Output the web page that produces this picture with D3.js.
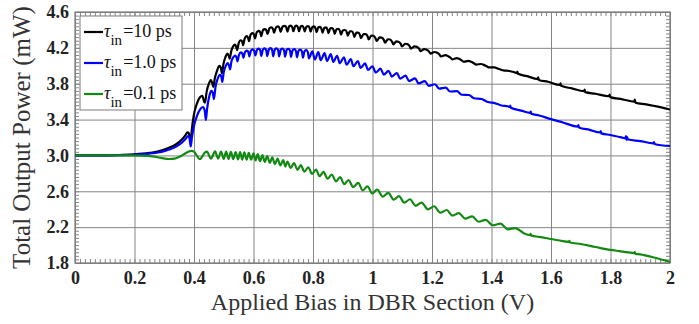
<!DOCTYPE html>
<html>
<head>
<meta charset="utf-8">
<script src="https://cdn.jsdelivr.net/npm/d3@7"></script>
<style>
  html, body { margin: 0; padding: 0; background: #fff; }
  svg { display: block; }
</style>
</head>
<body>
<svg id="chart" width="699" height="324"></svg>
<script>
// ---- data: applied bias (V) vs total output power (mW) ----
const xTickValues = [0, 0.2, 0.4, 0.6, 0.8, 1, 1.2, 1.4, 1.6, 1.8, 2];
const xTickLabels = ["0", "0.2", "0.4", "0.6", "0.8", "1", "1.2", "1.4", "1.6", "1.8", "2"];
const yTickValues = [1.8, 2.2, 2.6, 3.0, 3.4, 3.8, 4.2, 4.6];
const yTickLabels = ["1.8", "2.2", "2.6", "3.0", "3.4", "3.8", "4.2", "4.6"];
const legendValues = ["=10 ps", "=1.0 ps", "=0.1 ps"];

// tau_in = 10 ps
const powerTau10 = [
  [0.000,3.000],[0.100,3.001],[0.150,3.005],[0.200,3.012],[0.250,3.028],[0.280,3.045],[0.300,3.065],
  [0.320,3.090],[0.340,3.125],[0.360,3.180],[0.372,3.230],[0.378,3.258],[0.382,3.250],[0.386,3.200],[0.389,3.165],
  [0.393,3.300],[0.400,3.460],[0.410,3.580],[0.420,3.650],[0.428,3.665],[0.434,3.600],[0.437,3.590],
  [0.442,3.700],[0.450,3.800],[0.457,3.840],[0.462,3.800],[0.465,3.765],
  [0.470,3.860],[0.478,3.950],[0.485,4.000],[0.490,3.980],[0.494,3.915],
  [0.499,4.020],[0.506,4.100],[0.512,4.135],[0.517,4.110],[0.520,4.080],
  [0.525,4.160],[0.532,4.220],[0.538,4.235],[0.542,4.210],[0.545,4.175],
  [0.550,4.250],[0.557,4.285],[0.562,4.270],[0.565,4.230],
  [0.570,4.300],[0.577,4.330],[0.582,4.310],[0.585,4.275],
  [0.590,4.345],[0.597,4.365],[0.602,4.345],[0.605,4.305],
  [0.611,4.375],[0.618,4.390],[0.623,4.370],[0.626,4.330],
  [0.632,4.400],[0.639,4.410],[0.644,4.390],[0.647,4.355],
  [0.654,4.420],[0.661,4.430],[0.666,4.405],[0.669,4.370],
  [0.676,4.430],[0.683,4.440],[0.688,4.415],[0.691,4.378],
  [0.698,4.438],[0.706,4.445],[0.711,4.420],[0.714,4.382],
  [0.720,4.441],[0.726,4.448],[0.731,4.423],[0.734,4.385],
  [0.740,4.442],[0.745,4.448],[0.750,4.422],[0.753,4.385],
  [0.759,4.441],[0.764,4.446],[0.769,4.421],[0.772,4.383],
  [0.778,4.437],[0.784,4.442],[0.789,4.417],[0.792,4.380],
  [0.798,4.434],[0.804,4.439],[0.809,4.412],[0.812,4.375],
  [0.818,4.430],[0.824,4.434],[0.829,4.407],[0.832,4.370],
  [0.838,4.424],[0.844,4.428],[0.849,4.401],[0.852,4.364],
  [0.858,4.417],[0.864,4.420],[0.870,4.393],[0.873,4.357],
  [0.879,4.408],[0.885,4.411],[0.891,4.383],[0.894,4.348],
  [0.901,4.396],[0.908,4.399],[0.914,4.371],[0.917,4.337],
  [0.924,4.383],[0.930,4.385],[0.936,4.357],[0.939,4.323],
  [0.946,4.369],[0.952,4.370],[0.958,4.342],[0.961,4.309],
  [0.970,4.353],[0.977,4.353],[0.984,4.325],[0.987,4.293],
  [0.996,4.336],[1.003,4.335],[1.010,4.308],[1.014,4.277],
  [1.024,4.317],[1.031,4.315],[1.038,4.289],[1.042,4.259],
  [1.052,4.296],[1.059,4.293],[1.066,4.267],[1.070,4.238],
  [1.080,4.273],[1.087,4.269],[1.095,4.244],[1.099,4.216],
  [1.110,4.246],[1.117,4.242],[1.125,4.218],[1.129,4.192],
  [1.141,4.216],[1.149,4.211],[1.157,4.188],[1.161,4.164],
  [1.174,4.186],[1.182,4.180],[1.190,4.158],[1.195,4.136],
  [1.208,4.154],[1.216,4.148],[1.225,4.126],[1.230,4.104],
  [1.245,4.118],[1.253,4.110],[1.262,4.090],[1.268,4.072],
  [1.283,4.086],[1.291,4.078],[1.300,4.060],[1.307,4.044],
  [1.322,4.054],[1.331,4.045],[1.341,4.028],[1.348,4.014],
  [1.365,4.020],[1.374,4.010],[1.384,3.995],[1.392,3.982],
  [1.410,3.982],[1.420,3.970],[1.432,3.956],[1.440,3.948],
  [1.460,3.942],[1.475,3.930],[1.485,3.920],[1.487,3.936],[1.489,3.910],[1.520,3.884],
  [1.555,3.852],[1.557,3.870],[1.559,3.842],[1.590,3.822],[1.630,3.786],[1.632,3.804],[1.634,3.776],
  [1.670,3.748],[1.711,3.716],[1.713,3.734],[1.715,3.706],[1.750,3.688],[1.795,3.660],[1.797,3.678],
  [1.799,3.650],[1.840,3.626],[1.880,3.600],[1.882,3.624],[1.884,3.588],[1.920,3.570],[1.950,3.550],[2.000,3.512]
];

// tau_in = 1.0 ps
const powerTau1 = [
  [0.000,3.000],[0.100,3.000],[0.150,3.003],[0.200,3.008],[0.250,3.020],[0.280,3.033],[0.300,3.048],
  [0.320,3.068],[0.340,3.098],[0.360,3.145],[0.372,3.185],[0.380,3.215],[0.384,3.205],[0.387,3.140],[0.389,3.100],
  [0.393,3.200],[0.400,3.330],[0.410,3.440],[0.420,3.510],[0.430,3.540],[0.436,3.500],[0.440,3.395],
  [0.444,3.520],[0.450,3.640],[0.458,3.720],[0.463,3.700],[0.467,3.630],
  [0.472,3.760],[0.480,3.860],[0.487,3.900],[0.492,3.880],[0.495,3.820],
  [0.500,3.930],[0.507,4.000],[0.513,4.030],[0.518,4.000],[0.521,3.960],
  [0.526,4.050],[0.533,4.100],[0.539,4.115],[0.543,4.090],[0.546,4.050],
  [0.551,4.120],[0.558,4.150],[0.563,4.130],[0.566,4.090],
  [0.571,4.150],[0.578,4.170],[0.583,4.150],[0.586,4.105],
  [0.591,4.165],[0.598,4.182],[0.603,4.160],[0.606,4.115],
  [0.612,4.180],[0.618,4.192],[0.623,4.170],[0.626,4.110],
  [0.632,4.183],[0.638,4.195],[0.643,4.172],[0.646,4.108],
  [0.652,4.185],[0.658,4.196],[0.663,4.173],[0.666,4.106],
  [0.672,4.185],[0.678,4.195],[0.683,4.172],[0.686,4.104],
  [0.692,4.183],[0.698,4.193],[0.703,4.170],[0.706,4.102],
  [0.712,4.181],[0.718,4.190],[0.723,4.167],[0.726,4.099],
  [0.732,4.178],[0.738,4.186],[0.743,4.162],[0.746,4.095],
  [0.752,4.173],[0.758,4.181],[0.763,4.157],[0.766,4.090],
  [0.772,4.167],[0.778,4.174],[0.783,4.150],[0.786,4.083],
  [0.798,4.160],[0.806,4.070],[0.818,4.152],[0.826,4.062],[0.839,4.141],[0.847,4.053],
  [0.860,4.129],[0.868,4.043],[0.881,4.112],[0.890,4.028],[0.904,4.094],[0.913,4.012],
  [0.927,4.074],[0.936,3.996],[0.951,4.052],[0.960,3.976],[0.975,4.027],[0.985,3.953],
  [1.000,3.995],[1.011,3.925],[1.027,3.968],[1.038,3.902],[1.054,3.944],[1.065,3.880],
  [1.082,3.919],[1.093,3.857],[1.111,3.890],[1.123,3.830],[1.143,3.859],[1.155,3.803],
  [1.176,3.828],[1.189,3.776],[1.210,3.794],[1.224,3.746],[1.246,3.757],[1.261,3.713],
  [1.284,3.717],[1.300,3.677],[1.324,3.674],[1.341,3.638],[1.367,3.629],[1.385,3.599],
  [1.413,3.581],[1.433,3.557],[1.455,3.548],[1.462,3.540],[1.463,3.556],[1.465,3.532],
  [1.500,3.500],[1.530,3.474],[1.532,3.488],[1.534,3.465],[1.560,3.446],[1.600,3.405],
  [1.640,3.368],[1.690,3.322],[1.692,3.338],[1.694,3.312],[1.730,3.285],[1.765,3.256],
  [1.767,3.272],[1.769,3.246],[1.800,3.228],[1.840,3.198],[1.850,3.190],[1.852,3.215],
  [1.854,3.172],[1.856,3.205],[1.858,3.180],[1.900,3.160],[1.944,3.135],[1.946,3.148],
  [1.948,3.128],[2.000,3.105]
];

// tau_in = 0.1 ps
const powerTau01 = [
  [0.000,3.000],[0.150,3.000],[0.220,2.998],[0.260,2.990],[0.290,2.972],[0.315,2.960],[0.335,2.965],
  [0.355,2.990],[0.372,3.025],[0.385,3.046],[0.393,3.050],[0.402,3.035],[0.412,2.985],[0.420,2.958],
  [0.428,2.990],[0.436,3.030],[0.443,3.042],
  [0.457,2.965],[0.471,3.045],[0.481,2.964],[0.491,3.044],[0.500,2.962],[0.508,3.042],
  [0.516,2.960],[0.524,3.040],[0.532,2.958],[0.540,3.038],[0.548,2.956],[0.555,3.036],
  [0.562,2.953],[0.569,3.033],[0.577,2.952],[0.584,3.028],[0.592,2.952],[0.600,3.022],
  [0.607,2.944],[0.614,3.014],[0.622,2.936],[0.630,3.004],[0.638,2.927],[0.646,2.992],
  [0.655,2.916],[0.663,2.979],[0.672,2.903],[0.681,2.964],[0.690,2.888],[0.700,2.947],
  [0.707,2.876],[0.714,2.932],[0.725,2.860],[0.736,2.914],[0.748,2.839],[0.759,2.891],
  [0.771,2.818],[0.784,2.868],[0.797,2.794],[0.810,2.842],[0.822,2.768],[0.835,2.816],
  [0.849,2.741],[0.863,2.787],[0.877,2.711],[0.891,2.757],[0.905,2.680],[0.919,2.726],
  [0.935,2.647],[0.952,2.693],[0.967,2.611],[0.983,2.655],[0.999,2.576],[1.016,2.620],
  [1.034,2.541],[1.053,2.583],[1.071,2.506],[1.089,2.546],[1.107,2.473],[1.126,2.511],
  [1.145,2.438],[1.165,2.474],[1.186,2.399],[1.207,2.433],[1.228,2.361],[1.249,2.391],
  [1.269,2.328],[1.290,2.356],[1.312,2.294],[1.335,2.320],[1.357,2.260],[1.380,2.282],
  [1.404,2.221],[1.430,2.239],[1.455,2.176],[1.480,2.190],
  [1.510,2.130],[1.530,2.112],[1.532,2.125],[1.534,2.105],[1.560,2.092],[1.600,2.068],
  [1.640,2.044],[1.660,2.035],[1.662,2.048],[1.664,2.028],[1.700,2.012],[1.750,1.978],
  [1.800,1.946],[1.830,1.932],[1.860,1.918],[1.880,1.910],[1.882,1.922],[1.884,1.902],
  [1.900,1.896],[1.950,1.858],[2.000,1.812]
];

// ---- layout & style ----
const series = [
  { values: powerTau10, color: "#000000", label: legendValues[0] },
  { values: powerTau1,  color: "#0000ff", label: legendValues[1] },
  { values: powerTau01, color: "#128a12", label: legendValues[2] }
];

const svg = d3.select("#chart");
const plot = { left: 75, right: 670, top: 12, bottom: 263 };
const serif = "Liberation Serif";
const gridColor = "#858585";

const x = d3.scaleLinear().domain([0, 2]).range([plot.left, plot.right]);
const y = d3.scaleLinear().domain([1.8, 4.6]).range([plot.bottom, plot.top]);

const innerW = plot.right - plot.left;
const innerH = plot.bottom - plot.top;

// major grid lines
svg.append("g")
  .attr("transform", `translate(0,${plot.bottom})`)
  .call(d3.axisBottom(x).tickValues(xTickValues).tickSize(-innerH).tickFormat(""))
  .call(g => g.select(".domain").remove())
  .call(g => g.selectAll("line").attr("stroke", gridColor).attr("stroke-width", 1));

svg.append("g")
  .attr("transform", `translate(${plot.left},0)`)
  .call(d3.axisLeft(y).tickValues(yTickValues).tickSize(-innerW).tickFormat(""))
  .call(g => g.select(".domain").remove())
  .call(g => g.selectAll("line").attr("stroke", gridColor).attr("stroke-width", 1));

// minor ticks pointing inward on all four sides
const xMinor = d3.range(0, 2.0001, 0.02 / 1.2).map(v => +v.toFixed(4));
const yMinor = d3.range(1.8, 4.6001, 0.04).map(v => +v.toFixed(3));
const minorLen = 4;
function styleMinor(g) {
  g.select(".domain").remove();
  g.selectAll("line").attr("stroke", gridColor).attr("stroke-width", 1);
}
svg.append("g").attr("transform", `translate(0,${plot.bottom})`)
  .call(d3.axisBottom(x).tickValues(xMinor).tickSize(-minorLen).tickFormat("")).call(styleMinor);
svg.append("g").attr("transform", `translate(0,${plot.top})`)
  .call(d3.axisTop(x).tickValues(xMinor).tickSize(-minorLen).tickFormat("")).call(styleMinor);
svg.append("g").attr("transform", `translate(${plot.left},0)`)
  .call(d3.axisLeft(y).tickValues(yMinor).tickSize(-minorLen).tickFormat("")).call(styleMinor);
svg.append("g").attr("transform", `translate(${plot.right},0)`)
  .call(d3.axisRight(y).tickValues(yMinor).tickSize(-minorLen).tickFormat("")).call(styleMinor);

// plot frame
svg.append("rect")
  .attr("x", plot.left).attr("y", plot.top)
  .attr("width", innerW).attr("height", innerH)
  .attr("fill", "none").attr("stroke", "#7a7a7a").attr("stroke-width", 1.2);

// tick labels
svg.append("g")
  .attr("transform", `translate(0,${plot.bottom})`)
  .call(d3.axisBottom(x).tickValues(xTickValues).tickSize(0).tickPadding(8)
    .tickFormat((d, i) => xTickLabels[i]))
  .call(g => g.select(".domain").remove())
  .call(g => g.selectAll("text")
    .attr("font-family", serif).attr("font-size", 18).attr("font-weight", "bold").attr("fill", "#222"));

svg.append("g")
  .attr("transform", `translate(${plot.left},0)`)
  .call(d3.axisLeft(y).tickValues(yTickValues).tickSize(0).tickPadding(6)
    .tickFormat((d, i) => yTickLabels[i]))
  .call(g => g.select(".domain").remove())
  .call(g => g.selectAll("text")
    .attr("font-family", serif).attr("font-size", 18).attr("font-weight", "bold").attr("fill", "#222"));

// axis titles
svg.append("text")
  .attr("x", (plot.left + plot.right) / 2).attr("y", 310)
  .attr("text-anchor", "middle")
  .attr("font-family", serif).attr("font-size", 24).attr("fill", "#333")
  .text("Applied Bias in DBR Section (V)");

svg.append("text")
  .attr("transform", `translate(30,${(plot.top + plot.bottom) / 2}) rotate(-90)`)
  .attr("text-anchor", "middle")
  .attr("font-family", serif).attr("font-size", 25).attr("fill", "#333")
  .text("Total Output Power (mW)");

// curves
svg.append("clipPath").attr("id", "plot-clip")
  .append("rect").attr("x", plot.left).attr("y", plot.top).attr("width", innerW).attr("height", innerH);

const line = d3.line()
  .x(d => x(d[0]))
  .y(d => y(d[1]))
  .curve(d3.curveMonotoneX);

svg.append("g").attr("clip-path", "url(#plot-clip)")
  .selectAll("path")
  .data(series)
  .join("path")
  .attr("d", s => line(s.values))
  .attr("fill", "none")
  .attr("stroke", s => s.color)
  .attr("stroke-width", 2.2)
  .attr("stroke-linejoin", "round");

// legend
const legend = svg.append("g");
legend.append("rect")
  .attr("x", 80).attr("y", 16).attr("width", 102).attr("height", 94)
  .attr("fill", "#fff").attr("stroke", "#7a7a7a").attr("stroke-width", 1);

const rows = legend.selectAll("g.row")
  .data(series)
  .join("g")
  .attr("class", "row")
  .attr("transform", (d, i) => `translate(84,${32 + i * 31})`);

rows.append("line")
  .attr("x1", 0).attr("x2", 19)
  .attr("stroke", d => d.color).attr("stroke-width", 2.2);

const label = rows.append("text")
  .attr("x", 20).attr("y", 5)
  .attr("font-family", serif).attr("font-size", 18).attr("fill", "#111");
label.append("tspan").attr("font-style", "italic").text("τ");
label.append("tspan").attr("font-size", 15).attr("dy", 8).text("in");
label.append("tspan").attr("dy", -8).attr("dx", 1).text(d => d.label);
</script>
</body>
</html>
